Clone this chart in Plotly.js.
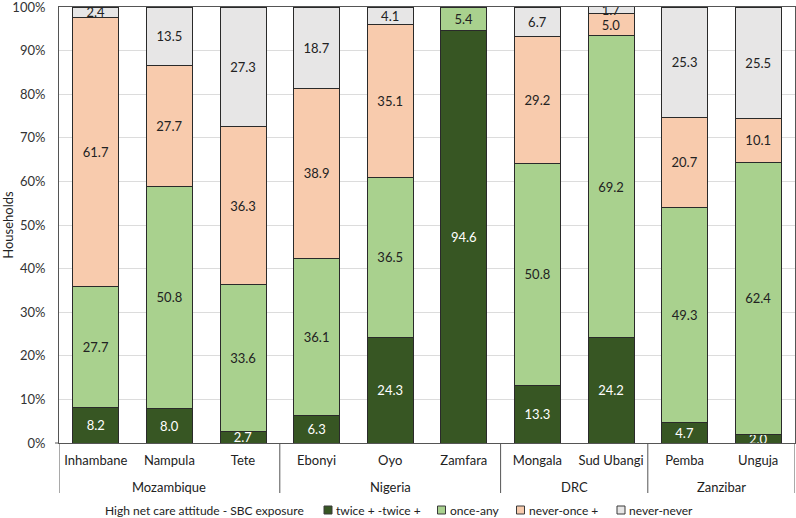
<!DOCTYPE html>
<html>
<head>
<meta charset="utf-8">
<script src="https://cdn.plot.ly/plotly-3.0.1.min.js"></script>
<style>html,body{margin:0;padding:0;background:#fff;}#chart{width:796px;height:518px;}</style>
</head>
<body>
<div id="chart"></div>
<script>
const categories = ["Inhambane","Nampula","Tete","Ebonyi","Oyo","Zamfara","Mongala","Sud Ubangi","Pemba","Unguja"];
const groups = ["Mozambique","Nigeria","DRC","Zanzibar"];
const groupSpans = [[0,2],[3,5],[6,7],[8,9]];
const twiceTwice = [8.2, 8.0, 2.7, 6.3, 24.3, 94.6, 13.3, 24.2, 4.7, 2.0];
const onceAny    = [27.7, 50.8, 33.6, 36.1, 36.5, 5.4, 50.8, 69.2, 49.3, 62.4];
const neverOnce  = [61.7, 27.7, 36.3, 38.9, 35.1, 0, 29.2, 5.0, 20.7, 10.1];
const neverNever = [2.4, 13.5, 27.3, 18.7, 4.1, 0, 6.7, 1.7, 25.3, 25.5];
const seriesNames = ["twice + -twice +","once-any","never-once +","never-never"];
const legendTitle = "High net care attitude - SBC exposure";
const yTicks = [0,10,20,30,40,50,60,70,80,90,100];

const FONT = "Lato, 'Open Sans', sans-serif";
const colors = ["#375623","#A9D18E","#F8CBAD","#E7E6E6"];
const textColors = ["#ffffff","#222222","#222222","#222222"];
const series = [twiceTwice, onceAny, neverOnce, neverNever];
const xIdx = categories.map((c,i)=>i);

const W = 796, H = 518;
const M = {l:59, r:1, t:7, b:75};
const PW = W - M.l - M.r, PH = H - M.t - M.b;
const px2x = px => (px - M.l)/PW;
const py2y = py => (H - M.b - py)/PH;

const traces = series.map((vals,k)=>({
  type:'bar',
  name: seriesNames[k],
  x: xIdx,
  y: vals,
  text: vals.map(v=> v>0 ? v.toFixed(1) : ''),
  textposition:'inside',
  insidetextanchor:'middle',
  textangle:0,
  constraintext:'none',
  textfont:{family:FONT, size:13, color:textColors[k]},
  marker:{color:colors[k], line:{color:'#2a2a2a', width:1}},
  hoverinfo:'skip',
  showlegend:false
}));

const shapes = [];
const sepPositions = [-0.5, 2.5, 5.5, 7.5, 9.5];
sepPositions.forEach(p=>{
  shapes.push({type:'line', xref:'x', yref:'paper', x0:p, x1:p, y0:0, y1:py2y(493),
    line:{color:'#555555', width:1}});
});
// small extension of the category axis line to the left of the value axis
shapes.push({type:'line', xref:'paper', yref:'paper', xsizemode:'pixel', xanchor:0, x0:-4, x1:0, y0:0, y1:0,
  line:{color:'#555555', width:1}});

const annotations = groups.map((g,i)=>({
  xref:'x', yref:'paper',
  x:(groupSpans[i][0]+groupSpans[i][1])/2, y:py2y(487),
  text:g, showarrow:false,
  font:{family:FONT, size:13, color:'#222222'},
  yanchor:'middle'
}));

// custom legend (Excel-style, compact)
const legY = py2y(510);
annotations.push({xref:'paper', yref:'paper', x:px2x(103), y:legY, xanchor:'left', yanchor:'middle',
  text:legendTitle, showarrow:false, font:{family:FONT, size:12, color:'#222222'}});
const legSquareCenters = [328, 441.5, 520.5, 621];
seriesNames.forEach((n,k)=>{
  const cx = px2x(legSquareCenters[k]);
  shapes.push({type:'rect', xref:'paper', yref:'paper', xsizemode:'pixel', ysizemode:'pixel',
    xanchor:cx, yanchor:legY, x0:-4, x1:4, y0:-4, y1:4,
    fillcolor:colors[k], line:{color:'#3a3a3a', width:1}});
  annotations.push({xref:'paper', yref:'paper', x:px2x(legSquareCenters[k]+6), y:legY,
    xanchor:'left', yanchor:'middle', text:n, showarrow:false,
    font:{family:FONT, size:12, color:'#222222'}});
});

const layout = {
  width:W, height:H,
  margin:M,
  paper_bgcolor:'#ffffff', plot_bgcolor:'#ffffff',
  barmode:'stack',
  bargap:0.375,
  showlegend:false,
  uniformtext:{minsize:13, mode:'show'},
  xaxis:{
    range:[-0.5,9.5],
    tickmode:'array', tickvals:xIdx, ticktext:categories,
    tickfont:{family:FONT, size:13, color:'#222222'},
    ticks:'', showgrid:false, zeroline:false,
    showline:true, linecolor:'#555555', linewidth:1, mirror:true,
    ticklabelstandoff:5,
    automargin:false
  },
  yaxis:{
    range:[0,100],
    tickmode:'array', tickvals:yTicks, ticktext:yTicks.map(v=>v+'%'),
    tickfont:{family:FONT, size:13, color:'#333333'},
    showgrid:true, gridcolor:'#dcdcdc', gridwidth:1,
    zeroline:false,
    showline:true, linecolor:'#555555', linewidth:1, mirror:true,
    ticks:'', ticklabelstandoff:10,
    ticklabeloverflow:'allow',
    automargin:false,
    title:{text:'Households', font:{family:FONT, size:13, color:'#222222'}, standoff:6}
  },
  shapes:shapes,
  annotations:annotations
};

Plotly.newPlot('chart', traces, layout, {displayModeBar:false, staticPlot:true});
</script>
</body>
</html>
